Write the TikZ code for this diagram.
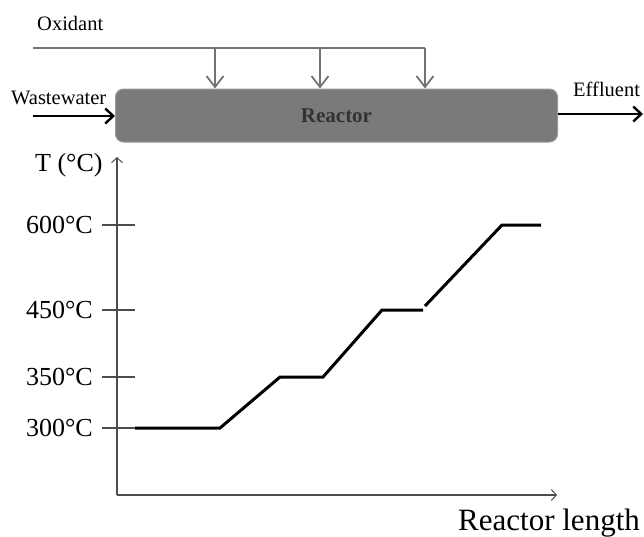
\documentclass[tikz,border=0pt]{standalone}
\usepackage{fontspec}
\setmainfont{Liberation Serif}
\usetikzlibrary{positioning, arrows.meta, calc}

\newcommand{\fsz}[1]{\fontsize{#1}{#1}\selectfont}

\begin{document}
\begin{tikzpicture}[x=1pt, y=-1pt,
  feed/.style={draw=black!55, line width=2pt, -{Straight Barb[length=11pt,width=17pt,line width=1.8pt]}},
  flow/.style={draw=black, line width=2.6pt, -{Straight Barb[length=8pt,width=15pt,line width=2.4pt]}},
  axis/.style={draw=black!70, line width=1.1pt, -{Straight Barb[length=5pt,width=11pt,line width=1pt]}},
  tick/.style={draw=black!70, line width=1.1pt},
  profile/.style={draw=black, line width=3pt},
  small/.style={font=\fsz{20.5}, inner sep=0pt},
  big/.style={font=\fsz{26}, inner sep=0pt}]
  \useasboundingbox (0,0) rectangle (644,536);

  % Reactor with its feeds
  \node[draw=black!40, line width=1pt, fill=black!52, rounded corners=8pt,
        minimum width=442pt, minimum height=53pt, inner sep=0pt,
        font=\fsz{21}\bfseries, text=black!80] (reactor) at (336.5,115.5) {Reactor};

  \node[small, anchor=west] (oxidant) at (37,23) {Oxidant};
  \coordinate (oxstart) at (33,48);
  \coordinate (oxend) at (425,48);
  \draw[draw=black!55, line width=2pt] (oxstart) -- (oxend);
  \foreach \x [count=\i] in {215,320,425} {
    \coordinate (drop\i) at (\x,48);
    \draw[feed] (drop\i) -- (drop\i |- reactor.north);
  }

  \node[small, anchor=west] (waste) at (11,98) {Wastewater};
  \coordinate (inlet) at (33,116);
  \draw[flow] (inlet) -- (inlet -| reactor.west);

  \node[small, anchor=west] (effluent) at (573,89) {Effluent};
  \coordinate (outlet) at (643,114);
  \draw[flow] (outlet -| reactor.east) -- (outlet);

  % Temperature axes
  \coordinate (origin) at (117,495);
  \coordinate (ytop) at (117,157);
  \coordinate (xend) at (557,495);
  \draw[axis] (origin) -- (ytop);
  \draw[axis] (origin) -- (xend);
  \node[big, anchor=west] (tlabel) at (35,165) {T (°C)};
  \node[font=\fsz{31}, inner sep=0pt, anchor=west] (xlabel) at (458,523) {Reactor length};

  \foreach \y/\t in {225/600, 310/450, 377/350, 428/300} {
    \coordinate (tick\t) at (117,\y);
    \draw[tick] ($(tick\t)+(-15,0)$) -- ($(tick\t)+(18,0)$);
    \node[big, anchor=east] (lab\t) at (93,\y) {\t°C};
  }

  % Temperature profile along the reactor
  \draw[profile] (135,428) -- (220,428) -- (280,377) -- (323,377)
    -- (382,310) -- (423,310);
  \draw[profile] (425,306) -- (502,225) -- (541,225);
\end{tikzpicture}
\end{document}
